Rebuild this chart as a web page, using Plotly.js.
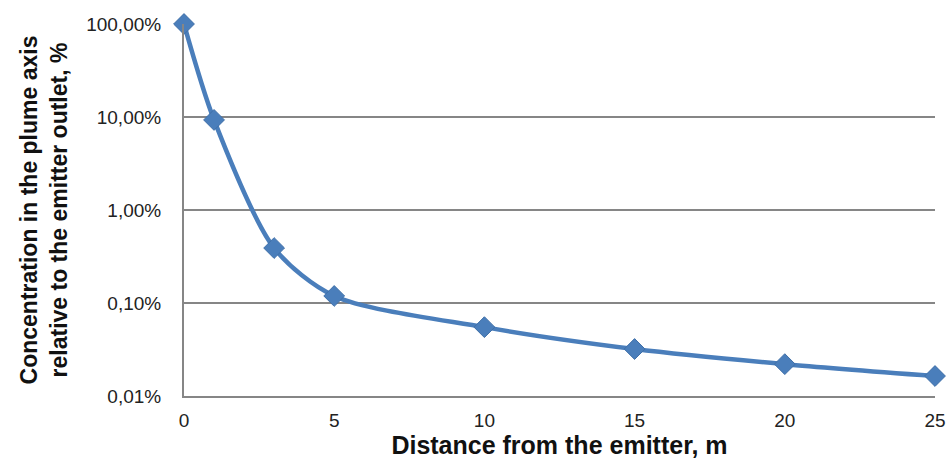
<!DOCTYPE html>
<html><head><meta charset="utf-8">
<script src="https://cdn.plot.ly/plotly-3.0.1.min.js"></script>
<style>html,body{margin:0;padding:0;background:#fff}#chart{width:950px;height:468px}</style>
</head><body><div id="chart"></div>
<script>
const distance = [0, 1, 3, 5, 10, 15, 20, 25];
const concentration = [1.0, 0.093, 0.0039, 0.00119, 0.00055, 0.00032, 0.00022, 0.000164];
const xTicks = [0, 5, 10, 15, 20, 25];
const yTicks = [0.0001, 0.001, 0.01, 0.1, 1];

const trace = {
  x: distance, y: concentration, type: 'scatter', mode: 'lines+markers',
  line: {shape: 'spline', smoothing: 0.8, color: '#4a7ebb', width: 4.5},
  marker: {symbol: 'diamond', size: 16, color: '#4a7ebb', line: {color: '#3f6fa8', width: 1}},
  cliponaxis: false, hoverinfo: 'x+y'
};
const layout = {
  width: 950, height: 468,
  margin: {l: 184, r: 15, t: 24, b: 72},
  separators: ',.',
  paper_bgcolor: '#fff', plot_bgcolor: '#fff',
  font: {family: 'Liberation Sans, Arial, sans-serif', color: '#222', size: 18},
  showlegend: false,
  xaxis: {
    range: [0, 25], tickvals: xTicks, ticktext: xTicks.map(String),
    showgrid: false, zeroline: false, showline: true, linecolor: '#868686', linewidth: 2,
    ticks: '', ticklabelstandoff: 6, tickfont: {size: 19, color: '#222'},
    title: {text: 'Distance from the emitter, m', font: {size: 25, color: '#111', weight: 'bold'}, standoff: 6}
  },
  yaxis: {
    type: 'log', range: [-4, 0], tickvals: yTicks, tickformat: '.2%',
    showgrid: true, gridcolor: '#868686', gridwidth: 2, zeroline: false,
    showline: true, linecolor: '#868686', linewidth: 2, ticks: '',
    ticklabelstandoff: 17, tickfont: {size: 19, color: '#222'},
    title: {text: 'Concentration in the plume axis<br>relative to the emitter outlet, %', font: {size: 23, color: '#111', weight: 'bold'}, standoff: 12}
  }
};
Plotly.newPlot('chart', [trace], layout, {displayModeBar: false, staticPlot: true});
</script></body></html>
